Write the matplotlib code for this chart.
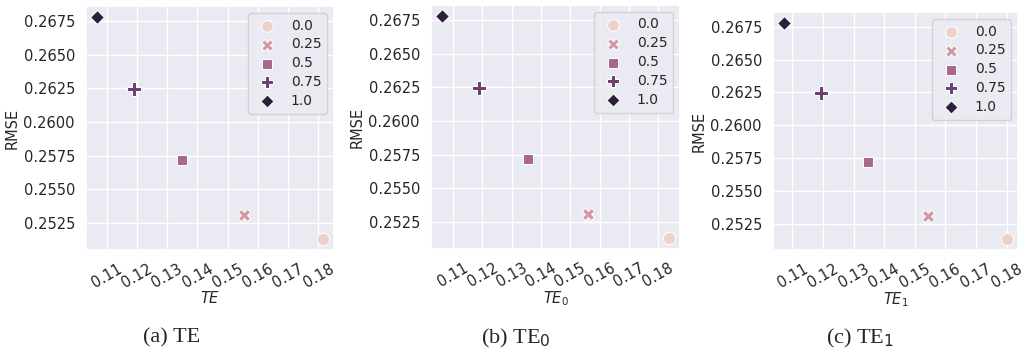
import numpy as np
import matplotlib
matplotlib.use("Agg")
import matplotlib.pyplot as plt
import seaborn as sns

# weight values (hue / style)
weights = [0.0, 0.25, 0.5, 0.75, 1.0]
weight_labels = ["0.0", "0.25", "0.5", "0.75", "1.0"]

# RMSE, same for all three panels
rmse = [0.25131, 0.25307, 0.25720, 0.26243, 0.26780]

# x values per panel
te = [0.1814, 0.1553, 0.1349, 0.1190, 0.1069]
te0 = [0.1836, 0.1561, 0.1354, 0.1188, 0.1063]
te1 = [0.1801, 0.1542, 0.1346, 0.1192, 0.1073]

xlabels = ["$TE$", "$TE_0$", "$TE_1$"]
captions = ["(a) TE", "(b) TE$_0$", "(c) TE$_1$"]

sns.set_theme(style="darkgrid")
plt.rcParams['font.family'] = 'sans-serif'
plt.rcParams['font.sans-serif'] = ['DejaVu Sans']
plt.rcParams['mathtext.fontset'] = 'dejavusans'

markers = ["o", "X", "s", "P", "D"]
msizes = [80, 80, 60, 90, 50]
cmap = sns.cubehelix_palette(as_cmap=True)
fs = 10.5

fig = plt.figure(figsize=(10.25, 3.56), dpi=100)

# axes boxes in pixels: left, top, right, bottom
boxes = [(86, 6, 334, 250), (431, 5, 680, 249), (773, 12, 1018, 250)]
cap_x = [172, 516, 860]

for k, xs in enumerate([te, te0, te1]):
    l, t, r, b = boxes[k]
    ax = fig.add_axes([l / 1025, (356 - b) / 356, (r - l) / 1025, (b - t) / 356])
    for i in range(len(weights)):
        ax.scatter(xs[i], rmse[i], marker=markers[i], s=msizes[i],
                   color=cmap(weights[i]), edgecolor="white", linewidth=0.75,
                   label=weight_labels[i])
    ax.set_xticks([0.11, 0.12, 0.13, 0.14, 0.15, 0.16, 0.17, 0.18])
    ax.set_yticks([0.2525, 0.2550, 0.2575, 0.2600, 0.2625, 0.2650, 0.2675])
    ax.set_yticklabels(["%.4f" % v for v in ax.get_yticks()], fontsize=fs)
    ax.set_xticklabels(["%.2f" % v for v in ax.get_xticks()], fontsize=fs, rotation=30)
    ax.tick_params(axis="both", pad=2)
    ax.set_xlabel(xlabels[k], fontsize=fs, labelpad=0)
    ax.set_ylabel("RMSE", fontsize=fs, labelpad=3)
    ax.legend(loc="upper right", fontsize=10, markerscale=0.95, handletextpad=0.7,
              labelspacing=0.35, borderaxespad=0.5)
    fig.text(cap_x[k] / 1025, 1 - 338 / 356, captions[k], ha="center", va="center",
             fontsize=16, family=["Liberation Serif"])

fig.savefig("out.png", dpi=100)
